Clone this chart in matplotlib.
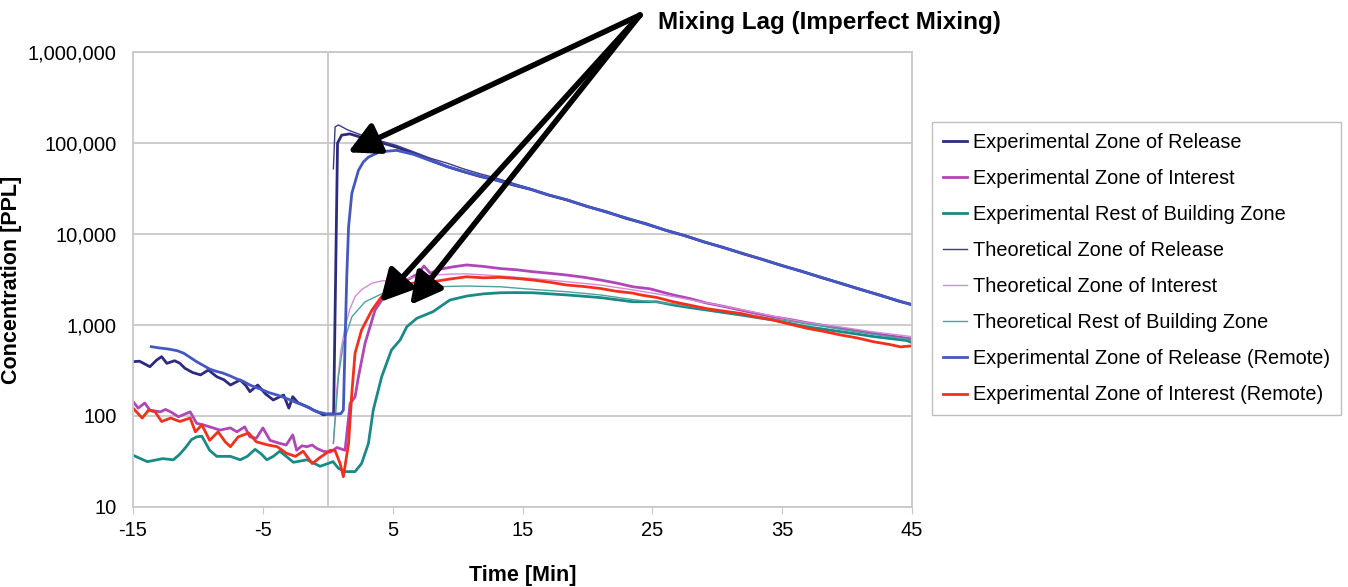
import matplotlib
matplotlib.use("Agg")
import matplotlib.pyplot as plt
from matplotlib.ticker import FuncFormatter, FixedLocator

plt.rcParams['font.family'] = ['Liberation Sans', 'DejaVu Sans']
plt.rcParams['axes.unicode_minus'] = False

# --- data (time in min, concentration in PPL) ---
t_exp_rel = [-15, -14.5, -13.7, -13.2, -12.8, -12.4, -11.8, -11.4, -11.0, -10.4, -9.8, -9.2,
             -8.55, -8.0, -7.5, -6.75, -6.3, -6.0, -5.4, -4.8, -4.2, -3.8, -3.4, -3.0, -2.7,
             -2.3, -1.9, -1.5, -1.1, -0.7, -0.35, 0.0, 0.3, 0.45, 0.75, 1.07, 1.7, 2.7, 4.0,
             5.3, 6.6, 7.9, 9.2, 10.45, 11.7, 13.0, 14.3, 15.6, 17.0, 18.4, 20.0, 21.5, 23.0,
             24.5, 26.0, 27.5, 29.0, 30.5, 32.0, 33.5, 35.0, 36.5, 38.0, 39.5, 41.0, 42.5,
             44.0, 45.0]
c_exp_rel = [395, 400, 348, 410, 449, 379, 405, 380, 334, 300, 283, 320,
             270, 250, 219, 249, 215, 185, 219, 175, 150, 160, 170, 122, 163,
             140, 132, 125, 116, 110, 103, 105, 105, 105, 100000, 122000, 126000, 114000, 102000,
             90000, 77000, 65000, 55000, 48500, 43000, 39000, 34500, 31000, 26800, 23700, 20000,
             17500, 14800, 13000, 11000, 9600, 8150, 7100, 6050, 5250, 4480, 3900, 3320, 2880,
             2460, 2140, 1820, 1680]

t_exp_int = [-15, -14.6, -14.1, -13.7, -12.9, -12.5, -12.1, -11.5, -10.6, -10.1, -9.6, -9.1,
             -8.3, -7.5, -7.0, -6.4, -6.0, -5.5, -5.0, -4.45, -3.7, -3.2, -2.7, -2.4, -2.0,
             -1.6, -1.2, -0.85, -0.35, 0.2, 0.7, 1.33, 1.72, 2.1, 2.36, 2.87, 3.64, 4.15, 4.9,
             5.6, 6.4, 7.0, 7.4, 7.9, 8.6, 9.7, 10.7, 12.0, 13.3, 14.5, 15.8, 17.1, 18.4, 19.7,
             21.0, 22.2, 23.5, 24.8, 26.6, 27.9, 29.2, 30.5, 31.8, 33.0, 34.3, 35.6, 36.9, 38.2,
             39.5, 40.8, 42.0, 43.3, 44.6, 45.0]
c_exp_int = [144, 122, 139, 116, 111, 118, 111, 98, 111, 83, 80, 76,
             70, 74, 67, 76, 59, 57, 74, 54, 50, 48, 62, 42, 47,
             46, 48, 44, 41, 40, 45, 42, 138, 162, 270, 630, 1460, 1870, 2430,
             2800, 3300, 3700, 4450, 3700, 4100, 4370, 4570, 4400, 4170, 4050, 3850, 3700, 3540,
             3350, 3120, 2900, 2630, 2500, 2140, 1950, 1740, 1600, 1460, 1340, 1230, 1150, 1060,
             990, 918, 860, 813, 760, 716, 700]

t_exp_rest = [-15, -13.9, -12.7, -11.9, -11.4, -10.9, -10.5, -10.1, -9.7, -9.1, -8.55, -7.5,
              -6.75, -6.2, -5.6, -5.1, -4.7, -4.2, -3.7, -3.2, -2.65, -1.6, -0.6, 0.0, 0.4,
              0.82, 1.33, 2.1, 2.6, 3.13, 3.5, 4.15, 4.9, 5.57, 6.08, 6.86, 8.1, 9.4, 10.7, 12.0,
              13.3, 14.5, 15.8, 17.1, 18.4, 19.7, 21.0, 22.2, 23.5, 25.3, 26.6, 27.9, 29.2, 30.5,
              31.8, 33.0, 34.3, 35.6, 36.9, 38.2, 39.5, 40.8, 42.0, 43.3, 44.6, 45.0]
c_exp_rest = [37, 31.5, 34, 33, 38, 46, 55, 59, 60, 42, 36, 36,
              33, 36, 43, 38, 33, 36, 41, 36, 31, 33, 28, 30, 31.5,
              26.6, 24.5, 24.5, 30, 50, 116, 270, 530, 684, 955, 1185, 1400, 1880, 2080, 2200,
              2260, 2270, 2260, 2200, 2140, 2070, 2000, 1900, 1800, 1800, 1660, 1550, 1460, 1370,
              1290, 1210, 1135, 1040, 955, 900, 845, 795, 747, 710, 675, 640]

t_theo_rel = [0.43, 0.56, 0.82, 1.5, 2.74, 4.0, 5.3, 6.6, 7.9, 9.2, 10.45, 11.7, 13.0, 14.3,
              15.6, 17.0, 18.2, 20.0, 21.5, 23.0, 24.5, 26.0, 27.5, 29.0, 30.5, 32.0, 33.5,
              35.0, 36.5, 38.0, 39.5, 41.0, 42.5, 44.0, 45.0]
c_theo_rel = [52000, 150000, 158000, 140000, 120000, 106000, 94000, 80000, 68000, 60000,
              52000, 46000, 41000, 36000, 31600, 27000, 23900, 20200, 17400, 15000, 12900,
              11100, 9540, 8210, 7070, 6080, 5240, 4510, 3880, 3340, 2870, 2470, 2130, 1830, 1660]

t_theo_int = [0.43, 0.7, 1.0, 1.33, 1.7, 2.1, 2.6, 3.4, 4.15, 5.57, 6.8, 8.1, 9.4, 10.7, 13.3,
              15.8, 18.4, 21.0, 23.5, 26.6, 29.2, 31.8, 34.3, 36.9, 39.5, 42.0, 44.6, 45.0]
c_theo_int = [50, 200, 520, 955, 1500, 2050, 2450, 2880, 3050, 3120, 3380, 3540, 3620, 3650,
              3460, 3240, 2990, 2750, 2430, 2050, 1750, 1480, 1250, 1060, 950, 840, 757, 745]

t_theo_rest = [0.43, 0.82, 1.2, 1.85, 2.87, 4.15, 5.57, 8.1, 10.7, 13.3, 15.8, 18.4, 21.0,
               23.5, 26.6, 29.2, 31.8, 34.3, 36.9, 39.5, 42.0, 44.6, 45.0]
c_theo_rest = [50, 270, 630, 1230, 1800, 2200, 2450, 2630, 2680, 2630, 2460, 2320, 2140,
               1900, 1700, 1500, 1330, 1170, 1030, 900, 790, 700, 690]

t_rem_rel = [-13.6, -13.0, -12.3, -11.6, -11.1, -10.6, -10.1, -9.6, -9.1, -8.6, -8.1, -7.5,
             -7.0, -6.5, -6.0, -5.5, -5.0, -4.5, -3.9, -3.4, -2.9, -2.4, -1.9, -1.4, -0.85,
             -0.4, -0.1, 0.5, 1.0, 1.2, 1.33, 1.46, 1.6, 1.85, 2.36, 2.74, 3.13, 4.0, 5.3, 6.6,
             7.9, 9.2, 10.45, 11.7, 13.0, 14.3, 15.6, 17.0, 18.4, 20.0, 21.5, 23.0, 24.5, 26.0,
             27.5, 29.0, 30.5, 32.0, 33.5, 35.0, 36.5, 38.0, 39.5, 41.0, 42.5, 44.0, 45.0]
c_rem_rel = [578, 560, 545, 522, 490, 440, 395, 360, 328, 310, 297, 275,
             255, 240, 219, 205, 193, 180, 170, 160, 150, 140, 132, 122, 111,
             108, 105, 105, 106, 116, 630, 3400, 12000, 28000, 50000, 62000, 70000, 80000, 83000,
             75000, 64000, 55000, 48500, 43500, 39000, 34800, 31200, 26900, 23800, 20100,
             17300, 15000, 12850, 11050, 9550, 8200, 7050, 6100, 5230, 4500, 3870, 3350, 2860,
             2480, 2120, 1840, 1660]

t_rem_int = [-15, -14.3, -13.8, -13.3, -12.8, -12.1, -11.4, -10.6, -10.2, -9.7, -9.1, -8.45,
             -7.9, -7.5, -6.9, -6.1, -5.5, -4.6, -3.9, -3.2, -2.5, -1.9, -1.2, -0.6, 0.2, 0.55,
             0.95, 1.2, 1.6, 1.85, 2.1, 2.6, 3.4, 4.15, 5.2, 6.5, 8.1, 9.4, 10.7, 12.0, 13.3,
             14.5, 15.8, 17.1, 18.4, 19.7, 21.0, 22.2, 23.5, 24.1, 25.3, 26.6, 27.9, 29.2, 30.5,
             31.8, 33.0, 34.3, 35.6, 36.9, 38.2, 39.5, 40.8, 42.0, 43.3, 44.1, 45.0]
c_rem_int = [122, 95, 116, 111, 87, 95, 87, 95, 67, 80, 54, 67,
             52, 46, 59, 65, 52, 48, 46, 39, 36, 41, 30, 35, 42, 42,
             30, 21.5, 50, 178, 490, 880, 1460, 2050, 2630, 2880, 2990, 3200, 3390, 3300, 3340,
             3250, 3120, 2950, 2750, 2650, 2520, 2350, 2240, 2140, 2010, 1800, 1650, 1510, 1420,
             1340, 1230, 1135, 1020, 920, 850, 777, 720, 656, 610, 575, 590]

labels = ["Experimental Zone of Release", "Experimental Zone of Interest",
          "Experimental Rest of Building Zone", "Theoretical Zone of Release",
          "Theoretical Zone of Interest", "Theoretical Rest of Building Zone",
          "Experimental Zone of Release (Remote)", "Experimental Zone of Interest (Remote)"]

x_ticks = [-15, -5, 5, 15, 25, 35, 45]

fig = plt.figure(figsize=(13.48, 5.87), dpi=100)
ax = fig.add_axes([0.0987, 0.1363, 0.5779, 0.7751])

grid_col = '#C8C8C8'
series = [
    (t_exp_rel, c_exp_rel, '#2D2B80', 2.0),
    (t_exp_int, c_exp_int, '#B046B8', 2.0),
    (t_exp_rest, c_exp_rest, '#1A8A86', 2.0),
    (t_theo_rel, c_theo_rel, '#3B3A8F', 1.0),
    (t_theo_int, c_theo_int, '#D88AD8', 1.0),
    (t_theo_rest, c_theo_rest, '#4AA39C', 1.0),
    (t_rem_rel, c_rem_rel, '#4457C2', 2.0),
    (t_rem_int, c_rem_int, '#F2301C', 2.0),
]
for (t, c, col, lw), lab in zip(series, labels):
    ax.plot(t, c, color=col, lw=lw, label=lab)

ax.set_yscale('log')
ax.set_xlim(-15, 45)
ax.set_ylim(10, 1000000)
ax.xaxis.set_major_locator(FixedLocator(x_ticks))
ax.yaxis.set_major_formatter(FuncFormatter(lambda v, p: f"{int(round(v)):,}"))
ax.yaxis.set_minor_locator(FixedLocator([]))
ax.grid(True, axis='y', color=grid_col, lw=1.3)
ax.axvline(0, color=grid_col, lw=1.3, zorder=0)
ax.set_axisbelow(True)
for s in ax.spines.values():
    s.set_color(grid_col)
    s.set_linewidth(1.3)
ax.tick_params(axis='x', direction='out', length=5, color=grid_col, labelsize=14.5, pad=5)
ax.tick_params(axis='y', length=0, labelsize=14.5, pad=12)

ax.set_xlabel("Time [Min]", fontsize=15.5, fontweight='bold')
ax.xaxis.set_label_coords(0.5, -0.1495)
ax.xaxis.label.set_va('center')
ax.set_ylabel("Concentration [PPL]", fontsize=15.5, fontweight='bold')
ax.yaxis.set_label_coords(-0.142, 0.5)

leg = ax.legend(loc='upper left', bbox_to_anchor=(0.6914, 0.7922), bbox_transform=fig.transFigure,
                fontsize=14.3, frameon=True, fancybox=False, handlelength=1.2,
                handletextpad=0.3, labelspacing=0.86, borderpad=0.55, borderaxespad=0)
leg.get_frame().set_edgecolor('#B0B0B0')
leg.get_frame().set_linewidth(1.0)

# arrows pointing at the mixing lag
origin = (0.4748, 0.9744)
for tip in [(1.56, 79000), (4.03, 1790), (6.34, 1660)]:
    ax.annotate("", xy=tip, xycoords='data', xytext=origin, textcoords='figure fraction',
                annotation_clip=False,
                arrowprops=dict(arrowstyle='-|>,head_length=0.95,head_width=0.5',
                                mutation_scale=20, lw=4, color='black',
                                shrinkA=0, shrinkB=0))
fig.text(0.488, 0.9625, "Mixing Lag (Imperfect Mixing)", fontsize=17.5, fontweight='bold',
         ha='left', va='center')

fig.savefig("out.png", dpi=100)
